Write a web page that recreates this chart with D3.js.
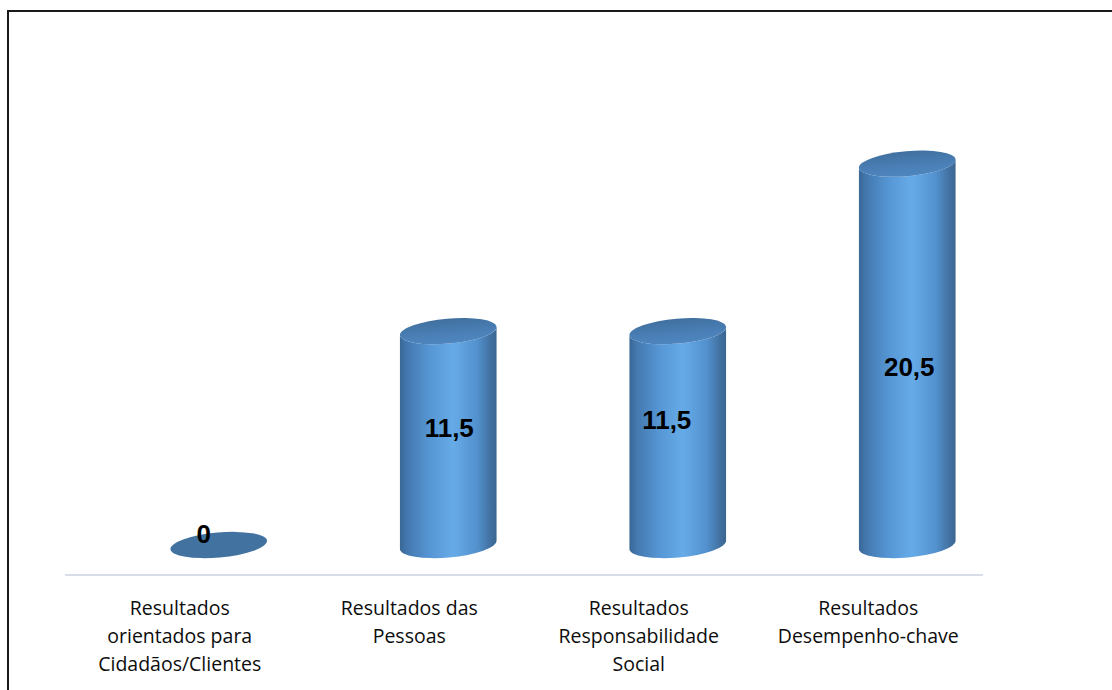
<!DOCTYPE html>
<html>
<head>
<meta charset="utf-8">
<script src="https://cdn.jsdelivr.net/npm/d3@7"></script>
<style>
  html, body { margin: 0; padding: 0; background: #fff; }
  svg { display: block; }
</style>
</head>
<body>
<svg id="chart" width="1112" height="690"></svg>
<script>
// Pontuação por critério de resultados
const categories = [
  ["Resultados", "orientados para", "Cidadãos/Clientes"],
  ["Resultados das", "Pessoas"],
  ["Resultados", "Responsabilidade", "Social"],
  ["Resultados", "Desempenho-chave"]
];
const values = [0, 11.5, 11.5, 20.5];
const valueLabels = ["0", "11,5", "11,5", "20,5"];

// Hand-placed offsets of the value labels (dx, dy) from each cylinder's mid-height
const labelNudge = [[-15, -11], [1, -10], [-11, -18], [2, 13]];

(function () {
  const W = 1112, H = 690;
  const svg = d3.select("#chart");

  // Frame
  svg.append("line").attr("x1", 8).attr("y1", 10).attr("x2", 8).attr("y2", H)
    .attr("stroke", "#1a1a1a").attr("stroke-width", 2);
  svg.append("line").attr("x1", 7).attr("y1", 11).attr("x2", W).attr("y2", 11)
    .attr("stroke", "#1a1a1a").attr("stroke-width", 2);

  const axisY = 575;
  const x = d3.scaleBand().domain(d3.range(categories.length)).range([65, 983]);
  const y = d3.scaleLinear().domain([0, 25]).range([545, 80]);

  // 3D depth offset of the cylinders relative to the category axis
  const depthDx = 39;
  const rx = 48.5, ry = 12.5, tilt = -5;
  const tr = tilt * Math.PI / 180;
  const ex = rx * Math.cos(tr), ey = rx * Math.sin(tr);

  const defs = svg.append("defs");
  const bodyGrad = defs.append("linearGradient").attr("id", "bodyGrad")
    .attr("x1", "0%").attr("x2", "100%").attr("y1", "0%").attr("y2", "0%");
  [[0, "#3a6795"], [0.08, "#4479b0"], [0.3, "#5595d3"], [0.55, "#66abe8"], [0.8, "#5291cd"], [0.93, "#4372a3"], [1, "#3a6690"]]
    .forEach(([o, c]) => bodyGrad.append("stop").attr("offset", o).attr("stop-color", c));
  const capGrad = defs.append("linearGradient").attr("id", "capGrad")
    .attr("x1", "0%").attr("x2", "0%").attr("y1", "0%").attr("y2", "100%");
  [[0, "#40709f"], [0.6, "#4a7fb6"], [1, "#4f86bf"]]
    .forEach(([o, c]) => capGrad.append("stop").attr("offset", o).attr("stop-color", c));

  // Category axis line
  svg.append("line")
    .attr("x1", x.range()[0]).attr("x2", x.range()[1])
    .attr("y1", axisY).attr("y2", axisY)
    .attr("stroke", "#d9dde7").attr("stroke-width", 2);

  const g = svg.append("g");
  values.forEach((v, i) => {
    const cx = x(i) + x.bandwidth() / 2 + depthDx;
    const yb = y(0), yt = y(v);
    if (v > 0) {
      const path = `M${cx - ex},${yt - ey} L${cx - ex},${yb - ey}`
        + ` A${rx},${ry} ${tilt} 0 0 ${cx + ex},${yb + ey}`
        + ` L${cx + ex},${yt + ey}`
        + ` A${rx},${ry} ${tilt} 0 1 ${cx - ex},${yt - ey} Z`;
      g.append("path").attr("d", path).attr("fill", "url(#bodyGrad)");
      g.append("ellipse")
        .attr("cx", cx).attr("cy", yt).attr("rx", rx).attr("ry", ry)
        .attr("transform", `rotate(${tilt},${cx},${yt})`)
        .attr("fill", "url(#capGrad)");
    } else {
      g.append("ellipse")
        .attr("cx", cx).attr("cy", yb).attr("rx", rx).attr("ry", ry)
        .attr("transform", `rotate(${tilt},${cx},${yb})`)
        .attr("fill", "#42729f");
    }
    const [dx, dy] = labelNudge[i];
    g.append("text")
      .attr("x", cx + dx).attr("y", (yt + yb) / 2 + dy)
      .attr("text-anchor", "middle").attr("dominant-baseline", "central")
      .attr("font-family", "Liberation Sans, Arial, sans-serif")
      .attr("font-weight", "bold").attr("font-size", 26)
      .attr("fill", "#000")
      .text(valueLabels[i]);
  });

  // Category labels
  categories.forEach((lines, i) => {
    const t = svg.append("text")
      .attr("text-anchor", "middle")
      .attr("font-family", "'Open Sans', 'Noto Sans', sans-serif")
      .attr("font-size", 19.5).attr("fill", "#0d0d0d");
    lines.forEach((s, k) => {
      t.append("tspan").attr("x", x(i) + x.bandwidth() / 2)
        .attr("y", 615 + k * 28).text(s);
    });
  });
})();
</script>
</body>
</html>
